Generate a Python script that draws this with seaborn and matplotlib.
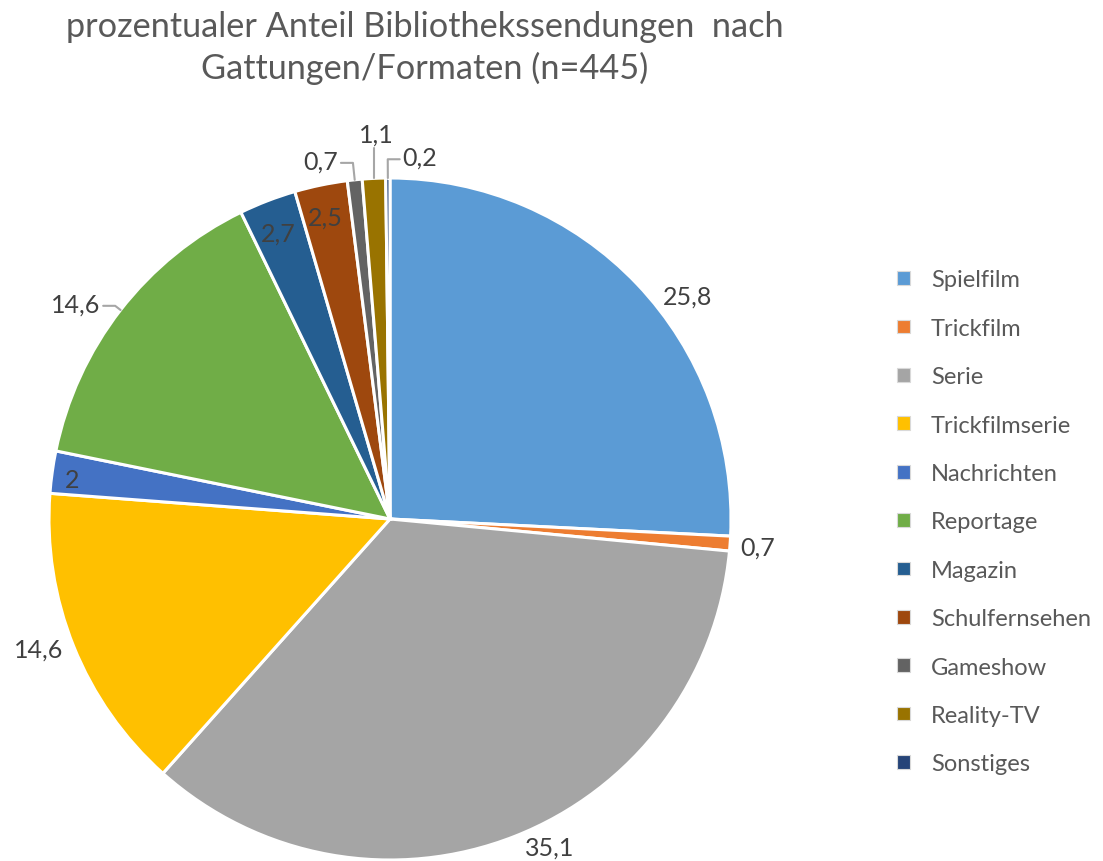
import matplotlib
matplotlib.use("Agg")
import matplotlib.pyplot as plt
import seaborn as sns
import numpy as np
from matplotlib.patches import Patch

# ---- data ----
categories = ["Spielfilm", "Trickfilm", "Serie", "Trickfilmserie", "Nachrichten",
              "Reportage", "Magazin", "Schulfernsehen", "Gameshow", "Reality-TV", "Sonstiges"]
values = [25.8, 0.7, 35.1, 14.6, 2, 14.6, 2.7, 2.5, 0.7, 1.1, 0.2]
value_labels = ["25,8", "0,7", "35,1", "14,6", "2", "14,6", "2,7", "2,5", "0,7", "1,1", "0,2"]
title = "prozentualer Anteil Bibliothekssendungen  nach\nGattungen/Formaten (n=445)"

# ---- style ----
sns.set_theme(style="white")
plt.rcParams["font.family"] = ["Lato", "DejaVu Sans"]
colors = sns.color_palette(["#5B9BD5", "#ED7D31", "#A5A5A5", "#FFC000", "#4472C4",
                            "#70AD47", "#255E91", "#9E480E", "#636363", "#997300", "#264478"])
TEXT = "#404040"
LEAD = "#A6A6A6"

W, H = 1103, 862
fig = plt.figure(figsize=(W / 100, H / 100), dpi=100)
ax = fig.add_axes([0, 0, 1, 1])

CX, CY, R = 390, H - 520, 341
wedges, _ = ax.pie(values, colors=colors, startangle=90, counterclock=False,
                   center=(CX, CY), radius=R,
                   wedgeprops=dict(edgecolor="white", linewidth=2.2))
ax.set_xlim(0, W)
ax.set_ylim(0, H)
ax.set_aspect("equal")
ax.axis("off")

# label placement style: (mode, angle_deg, radius_factor)
placement = [
    ("pt", 36.8, 1.09),
    ("pt", -4.4, 1.08),
    ("pt", -64.0, 1.07),
    ("pt", -159.7, 1.10),
    ("pt", 172.9, 0.94),
    ("lead_l", None, 1.02),
    ("pt", 111.3, 0.90),
    ("pt", 102.0, 0.906),
    ("lead_l", None, 1.05),
    ("lead_up", None, 1.09),
    ("lead_r", None, 1.055),
]
FS = 18
for w, lab, (mode, ang, rf) in zip(wedges, value_labels, placement):
    mid = np.deg2rad((w.theta1 + w.theta2) / 2)
    if mode == "pt":
        a = np.deg2rad(ang)
        ax.text(CX + rf * R * np.cos(a), CY + rf * R * np.sin(a), lab,
                ha="center", va="center", fontsize=FS, color=TEXT)
        continue
    ex, ey = CX + R * np.cos(mid), CY + R * np.sin(mid)
    if mode == "lead_up":
        ty = CY + rf * R * np.sin(mid)
        ax.plot([ex, ex], [ey, ty], color=LEAD, lw=1.5)
        ax.text(ex + 2, ty + 2, lab, ha="center", va="bottom", fontsize=FS, color=TEXT)
        continue
    bx, by = CX + rf * R * np.cos(mid), CY + rf * R * np.sin(mid)
    seg = 12
    if mode == "lead_l":
        hx = bx - seg
        ax.plot([ex, bx, hx], [ey, by, by], color=LEAD, lw=1.5)
        ax.text(hx - 3, by + 2, lab, ha="right", va="center", fontsize=FS, color=TEXT)
    else:
        hx = bx + seg
        ax.plot([ex, bx, hx], [ey, by, by], color=LEAD, lw=1.5)
        ax.text(hx + 3, by + 2, lab, ha="left", va="center", fontsize=FS, color=TEXT)

fig.text(425 / W, 1 - 48 / H, title, ha="center", va="center", fontsize=24.7,
         color="#595959", linespacing=1.31)

LFS = 17
handles = [Patch(facecolor=c, edgecolor="#D9D9D9", linewidth=0.8) for c in colors]
leg = fig.legend(handles, categories, loc="upper left", bbox_to_anchor=(888 / W, 1 - 261 / H),
                 frameon=False, fontsize=LFS, labelcolor="#595959",
                 handlelength=0.52, handleheight=0.52, handletextpad=0.9,
                 labelspacing=1.16, borderaxespad=0)

fig.savefig("out.png", dpi=100)
